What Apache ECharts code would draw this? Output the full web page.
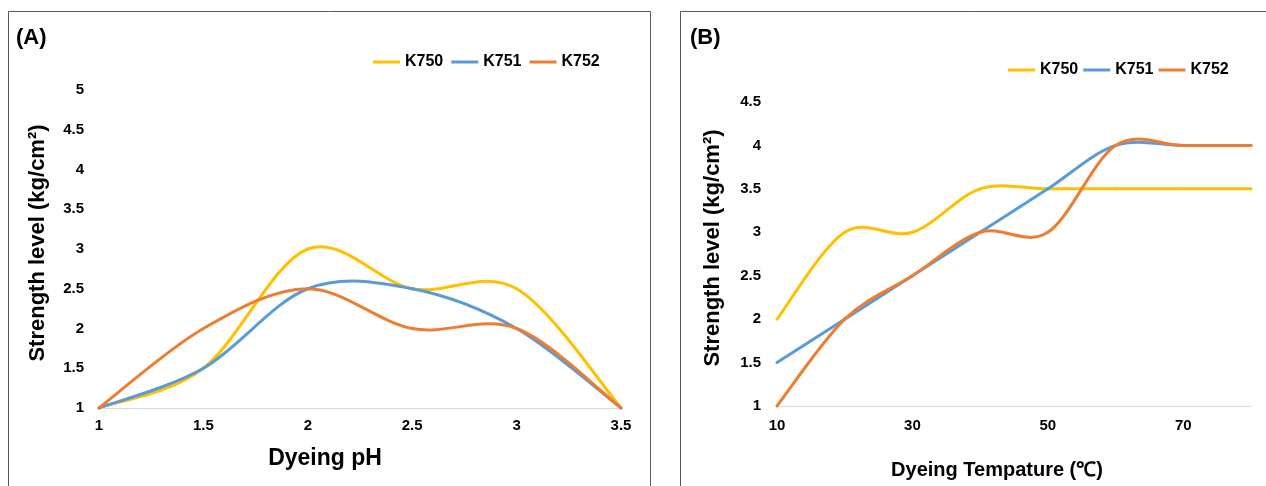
<!DOCTYPE html>
<html>
<head>
<meta charset="utf-8">
<script src="https://cdn.jsdelivr.net/npm/echarts@6/dist/echarts.min.js"></script>
<style>
html,body{margin:0;padding:0;background:#fff;}
#chart{width:1266px;height:486px;}
</style>
</head>
<body>
<div id="chart"></div>
<script>
// ---- Data ----
const seriesNames = ['K750', 'K751', 'K752'];
const colors = ['#FFC000', '#5B9BD5', '#ED7D31'];

// Panel A: Dyeing pH
const phValues = [1, 1.5, 2, 2.5, 3, 3.5];
const phK750 = [1, 1.5, 3, 2.5, 2.5, 1];
const phK751 = [1, 1.5, 2.5, 2.5, 2, 1];
const phK752 = [1, 2, 2.5, 2, 2, 1];

// Panel B: Dyeing temperature
const tempCategories = ['10', '20', '30', '40', '50', '60', '70', '80'];
const tempK750 = [2, 3, 3, 3.5, 3.5, 3.5, 3.5, 3.5];
const tempK751 = [1.5, 2, 2.5, 3, 3.5, 4, 4, 4];
const tempK752 = [1, 2, 2.5, 3, 3, 4, 4, 4];

const FONT = '"Liberation Sans", Arial, sans-serif';

const chart = echarts.init(document.getElementById('chart'), null, {renderer: 'canvas'});

const tickLabel = {color: '#000', fontFamily: FONT, fontWeight: 'bold', fontSize: 15};

// Smooth line (Excel-like Catmull-Rom) drawn through the axes' own scales via api.coord
function smoothSeries(name, data, xIdx, yIdx) {
  const color = colors[seriesNames.indexOf(name)];
  return {
    name: name, type: 'custom', xAxisIndex: xIdx, yAxisIndex: yIdx,
    data: data, encode: {x: 0, y: 1}, clip: false,
    color: color, itemStyle: {color: color},
    renderItem: function (params, api) {
      if (params.dataIndex !== 0) return null;
      const p = data.map(d => api.coord(d));
      const n = p.length;
      const children = [];
      for (let i = 0; i < n - 1; i++) {
        const p0 = p[Math.max(i - 1, 0)], p1 = p[i], p2 = p[i + 1], p3 = p[Math.min(i + 2, n - 1)];
        children.push({
          type: 'bezierCurve',
          shape: {
            x1: p1[0], y1: p1[1], x2: p2[0], y2: p2[1],
            cpx1: p1[0] + (p2[0] - p0[0]) / 6, cpy1: p1[1] + (p2[1] - p0[1]) / 6,
            cpx2: p2[0] - (p3[0] - p1[0]) / 6, cpy2: p2[1] - (p3[1] - p1[1]) / 6
          },
          style: {fill: 'none', stroke: color, lineWidth: 3, lineCap: 'round', lineJoin: 'round'}
        });
      }
      return {type: 'group', children: children};
    }
  };
}

const pairsA = ys => phValues.map((x, i) => [x, ys[i]]);
const pairsB = ys => tempCategories.map((c, i) => [i, ys[i]]);

const option = {
  backgroundColor: '#fff',
  animation: false,
  grid: [
    {left: 99, top: 90, width: 522, height: 318, containLabel: false},
    {left: 777, top: 102, width: 474, height: 304, containLabel: false}
  ],
  xAxis: [
    {
      type: 'value', gridIndex: 0, min: 1, max: 3.5, interval: 0.5,
      axisLine: {show: true, lineStyle: {color: '#D9D9D9', width: 1}},
      axisTick: {show: false}, splitLine: {show: false},
      axisLabel: Object.assign({margin: 10}, tickLabel)
    },
    {
      type: 'category', gridIndex: 1, data: tempCategories, boundaryGap: false,
      axisLine: {show: true, lineStyle: {color: '#D9D9D9', width: 1}},
      axisTick: {show: false}, splitLine: {show: false},
      axisLabel: Object.assign({margin: 12, interval: 1}, tickLabel)
    }
  ],
  yAxis: [
    {
      type: 'value', gridIndex: 0, min: 1, max: 5, interval: 0.5,
      axisLine: {show: false}, axisTick: {show: false}, splitLine: {show: false},
      axisLabel: Object.assign({margin: 15}, tickLabel)
    },
    {
      type: 'value', gridIndex: 1, min: 1, max: 4.5, interval: 0.5,
      axisLine: {show: false}, axisTick: {show: false}, splitLine: {show: false},
      axisLabel: Object.assign({margin: 16}, tickLabel)
    }
  ],
  legend: [
    {
      data: seriesNames, left: 368, top: 49, icon: 'rect', itemWidth: 27, itemHeight: 3,
      itemGap: 8, textStyle: {color: '#000', fontFamily: FONT, fontWeight: 'bold', fontSize: 16}
    },
    {
      data: seriesNames, left: 1003, top: 57, icon: 'rect', itemWidth: 27, itemHeight: 3,
      itemGap: 5, textStyle: {color: '#000', fontFamily: FONT, fontWeight: 'bold', fontSize: 16}
    }
  ],
  graphic: [
    {type: 'rect', shape: {x: 8.5, y: 11.5, width: 642, height: 480}, style: {fill: 'none', stroke: '#595959', lineWidth: 1}, silent: true},
    {type: 'rect', shape: {x: 680.5, y: 11.5, width: 590, height: 480}, style: {fill: 'none', stroke: '#595959', lineWidth: 1}, silent: true},
    {type: 'text', left: 16, top: 27, style: {text: '(A)', fill: '#000', font: 'bold 22px ' + FONT}},
    {type: 'text', left: 690, top: 27, style: {text: '(B)', fill: '#000', font: 'bold 22px ' + FONT}},
    {type: 'text', x: 325, y: 459, style: {text: 'Dyeing pH', fill: '#000', font: 'bold 23px ' + FONT, align: 'center', verticalAlign: 'middle'}},
    {type: 'text', x: 997, y: 470, style: {text: 'Dyeing Tempature (℃)', fill: '#000', font: 'bold 20px ' + FONT, align: 'center', verticalAlign: 'middle'}},
    {type: 'text', x: 38, y: 243, rotation: Math.PI / 2, style: {text: 'Strength level (kg/cm²)', fill: '#000', font: 'bold 22px ' + FONT, align: 'center', verticalAlign: 'middle'}},
    {type: 'text', x: 713, y: 248, rotation: Math.PI / 2, style: {text: 'Strength level (kg/cm²)', fill: '#000', font: 'bold 22px ' + FONT, align: 'center', verticalAlign: 'middle'}}
  ],
  series: [
    smoothSeries('K750', pairsA(phK750), 0, 0),
    smoothSeries('K751', pairsA(phK751), 0, 0),
    smoothSeries('K752', pairsA(phK752), 0, 0),
    smoothSeries('K750', pairsB(tempK750), 1, 1),
    smoothSeries('K751', pairsB(tempK751), 1, 1),
    smoothSeries('K752', pairsB(tempK752), 1, 1)
  ]
};

chart.setOption(option);
</script>
</body>
</html>
